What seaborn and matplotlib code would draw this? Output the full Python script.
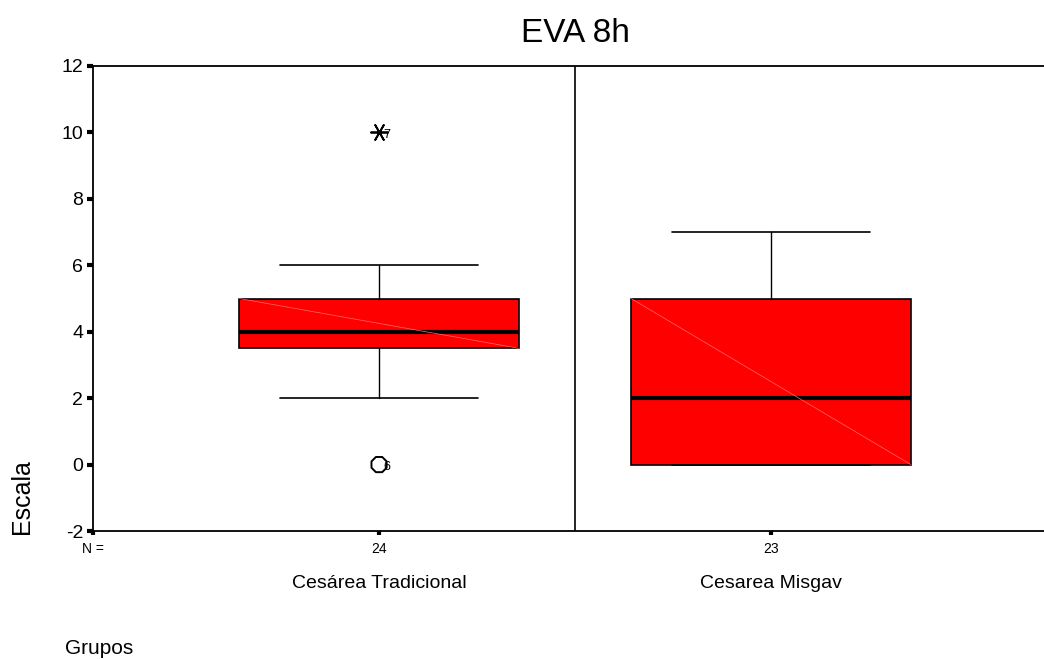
import matplotlib
matplotlib.use("Agg")
import matplotlib.pyplot as plt
import seaborn as sns

# Datos del gráfico (resumen de cinco números por grupo)
grupos = ["Cesárea Tradicional", "Cesarea Misgav"]
n_casos = [24, 23]
bigote_inf = [2, 0]
q1 = [3.5, 0]
mediana = [4, 2]
q3 = [5, 5]
bigote_sup = [6, 7]

# Casos atípicos (grupo, valor, número de caso, extremo o no)
atip_grupo = [0, 0]
atip_valor = [10, 0]
atip_caso = ["7", "6"]
atip_extremo = [True, False]

sns.set_style("white")
plt.rcParams["font.family"] = ["Liberation Sans", "DejaVu Sans"]
plt.rcParams["axes.unicode_minus"] = False
plt.rcParams["text.color"] = "black"
plt.rcParams["xtick.color"] = "black"
plt.rcParams["ytick.color"] = "black"

fig = plt.figure(figsize=(10.44, 6.59), dpi=100)
ax = fig.add_axes([93 / 1044, 1 - 531 / 659, (1057 - 93) / 1044, (531 - 66) / 659])

stats = []
for i in range(len(grupos)):
    stats.append(dict(whislo=bigote_inf[i], q1=q1[i], med=mediana[i], q3=q3[i],
                      whishi=bigote_sup[i], fliers=[], label=grupos[i]))

ax.bxp(stats, positions=range(len(grupos)), widths=0.714, capwidths=0.505,
       showfliers=False, patch_artist=True,
       boxprops=dict(facecolor="#ff0000", edgecolor="black", linewidth=1.2),
       medianprops=dict(color="black", linewidth=3.0, solid_capstyle="butt"),
       whiskerprops=dict(color="black", linewidth=1.0),
       capprops=dict(color="black", linewidth=1.2))

# línea diagonal tenue dentro de cada caja (artefacto del relleno)
for i in range(len(grupos)):
    ax.plot([i - 0.357, i + 0.357], [q3[i], q1[i]], color="#ff6a6a", linewidth=0.5, zorder=3)

# casos atípicos
for g, v, c, ext in zip(atip_grupo, atip_valor, atip_caso, atip_extremo):
    if ext:
        ax.scatter(g, v, marker=(6, 2, 90), s=150, color="black", linewidths=1.3, zorder=5)
    else:
        ax.scatter(g, v, marker="8", s=140, facecolor="none", edgecolor="black", linewidths=1.4, zorder=5)
    ax.annotate(c, (g, v), xytext=(3, -4), textcoords="offset points", fontsize=9, zorder=6)

ax.axvline(0.5, color="black", linewidth=1.2)

xmin, xmax = -0.73, 1.73
ax.set_xlim(xmin, xmax)
ax.set_ylim(-2, 12)
ax.set_yticks(range(-2, 13, 2))
ax.set_xticks([xmin, 0, 1])
ax.set_xticklabels(["N ="] + [str(n) for n in n_casos], fontsize=10)
ax.tick_params(axis="y", left=True, direction="out", length=4, width=3, labelsize=14, pad=3)
ax.tick_params(axis="x", bottom=True, direction="out", length=3, width=3, pad=5)

for s in ["top", "left", "bottom"]:
    ax.spines[s].set_color("black")
    ax.spines[s].set_linewidth(1.3)
ax.spines["right"].set_visible(False)

for i, g in enumerate(grupos):
    ax.text(i, -0.113, g, transform=ax.get_xaxis_transform(), ha="center", va="center", fontsize=14)

fig.text(575 / 1044, 1 - 33 / 659, "EVA 8h", ha="center", va="center", fontsize=24)
fig.text(22 / 1044, 1 - 497 / 659, "Escala", rotation=90, ha="center", va="center", fontsize=18)
fig.text(65 / 1044, 1 - 648 / 659, "Grupos", ha="left", va="center", fontsize=15)

fig.savefig("out.png", dpi=100)
